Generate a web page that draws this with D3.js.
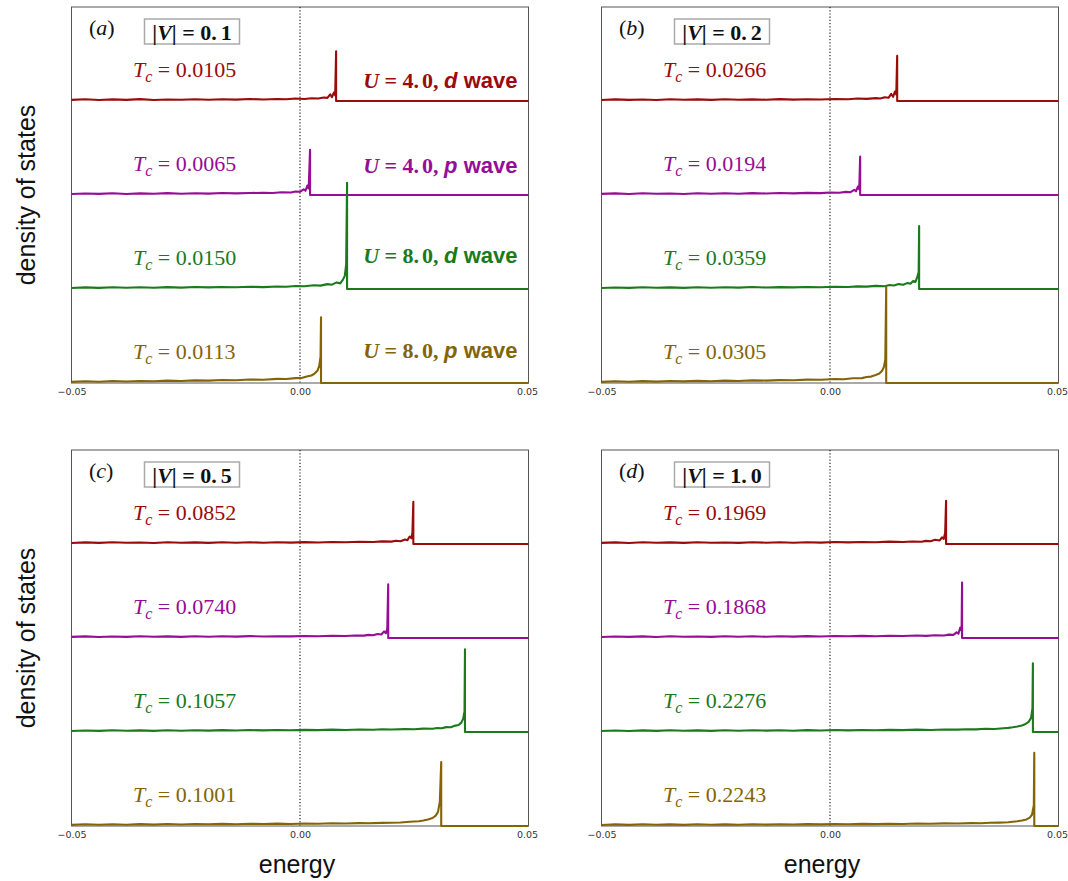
<!DOCTYPE html>
<html>
<head>
<meta charset="utf-8">
<script src="https://cdn.jsdelivr.net/npm/d3@7"></script>
<style>
  body { margin: 0; background: #fff; }
</style>
</head>
<body>
<div id="chart"></div>
<script>
// panel tags, |V| values, Tc values
const panelTags = ["a", "b", "c", "d"];
const vValues = ["0.1", "0.2", "0.5", "1.0"];
const tcValues = [
    ["0.0105", "0.0065", "0.0150", "0.0113"],
    ["0.0266", "0.0194", "0.0359", "0.0305"],
    ["0.0852", "0.0740", "0.1057", "0.1001"],
    ["0.1969", "0.1868", "0.2276", "0.2243"]
];
// U and pairing symmetry of each curve (red, magenta, green, olive)
const waveLabels = [["4.0", "d"], ["4.0", "p"], ["8.0", "d"], ["8.0", "p"]];
const curveColors = ["#9a0b0b", "#960d96", "#1b7a1b", "#836507"];
const curveOffsets = [3, 2, 1, 0];

// gap edge energy and coherence peak height
const edgeEnergy = [
    [0.0079, 0.0022, 0.0103, 0.0046],
    [0.0147, 0.0066, 0.0195, 0.0123],
    [0.0248, 0.0193, 0.0361, 0.0309],
    [0.0254, 0.0289, 0.0444, 0.0447]
];
const peakHeight = [
    [0.53, 0.48, 1.13, 0.70],
    [0.48, 0.41, 0.67, 1.02],
    [0.45, 0.57, 0.88, 0.68],
    [0.46, 0.59, 0.73, 0.78]
];

// density of states below the edge, [energy, dos]
const dosA = [
    [[-0.050,.012],[-0.047,.018],[-0.044,.010],[-0.041,.017],[-0.038,.012],[-0.035,.020],[-0.032,.011],[-0.029,.016],[-0.026,.013],[-0.023,.019],[-0.020,.014],[-0.017,.018],[-0.014,.015],[-0.011,.021],[-0.008,.016],[-0.005,.022],[-0.003,.019],[-0.001,.026],[0.001,.022],[0.0025,.030],[0.004,.027],[0.0052,.038],[0.006,.033],[0.0066,.07],[0.007,.04],[0.0074,.09],[0.0077,.06]],
    [[-0.050,.010],[-0.047,.016],[-0.044,.012],[-0.041,.018],[-0.038,.011],[-0.035,.017],[-0.032,.013],[-0.029,.020],[-0.026,.014],[-0.023,.018],[-0.020,.015],[-0.017,.022],[-0.014,.017],[-0.011,.021],[-0.008,.024],[-0.006,.022],[-0.004,.030],[-0.002,.027],[-0.001,.038],[0.000,.034],[0.0008,.06],[0.0012,.045],[0.0016,.10],[0.0019,.07]],
    [[-0.050,.011],[-0.047,.017],[-0.044,.012],[-0.041,.018],[-0.038,.013],[-0.035,.019],[-0.032,.014],[-0.029,.020],[-0.026,.015],[-0.023,.021],[-0.020,.017],[-0.017,.022],[-0.014,.018],[-0.011,.024],[-0.008,.020],[-0.005,.027],[-0.003,.024],[-0.001,.032],[0.001,.029],[0.003,.040],[0.0045,.036],[0.006,.052],[0.007,.046],[0.008,.07],[0.0088,.06],[0.0094,.10],[0.0098,.14],[0.0101,.26]],
    [[-0.050,.012],[-0.047,.019],[-0.044,.014],[-0.041,.021],[-0.038,.016],[-0.035,.022],[-0.032,.018],[-0.029,.025],[-0.026,.021],[-0.023,.028],[-0.020,.025],[-0.017,.032],[-0.014,.029],[-0.011,.037],[-0.008,.035],[-0.005,.044],[-0.003,.042],[-0.001,.052],[0.0005,.055],[0.0015,.068],[0.0025,.080],[0.0032,.10],[0.0038,.13],[0.0042,.18],[0.0045,.28]]
];
const dosB = [
    [[-0.050,.011],[-0.047,.017],[-0.044,.012],[-0.041,.016],[-0.038,.010],[-0.035,.018],[-0.032,.013],[-0.029,.017],[-0.026,.012],[-0.023,.019],[-0.020,.014],[-0.017,.017],[-0.014,.013],[-0.011,.020],[-0.008,.015],[-0.005,.019],[-0.002,.016],[0.001,.022],[0.004,.019],[0.006,.026],[0.008,.023],[0.010,.031],[0.011,.027],[0.012,.040],[0.0128,.034],[0.0134,.075],[0.0138,.045],[0.0142,.10],[0.0145,.07]],
    [[-0.050,.012],[-0.047,.017],[-0.044,.011],[-0.041,.018],[-0.038,.013],[-0.035,.016],[-0.032,.011],[-0.029,.019],[-0.026,.014],[-0.023,.018],[-0.020,.013],[-0.017,.020],[-0.014,.016],[-0.011,.021],[-0.008,.017],[-0.005,.023],[-0.002,.020],[0.000,.027],[0.002,.024],[0.0035,.033],[0.0045,.030],[0.0053,.055],[0.0057,.040],[0.0061,.09],[0.0064,.06]],
    [[-0.050,.010],[-0.047,.016],[-0.044,.012],[-0.041,.018],[-0.038,.013],[-0.035,.017],[-0.032,.012],[-0.029,.019],[-0.026,.014],[-0.023,.018],[-0.020,.015],[-0.017,.021],[-0.014,.016],[-0.011,.020],[-0.008,.017],[-0.005,.022],[-0.002,.019],[0.001,.024],[0.004,.021],[0.006,.028],[0.008,.025],[0.010,.033],[0.012,.030],[0.013,.042],[0.014,.037],[0.015,.052],[0.016,.046],[0.017,.065],[0.0176,.056],[0.0182,.085],[0.0187,.075],[0.0191,.13],[0.0194,.18]],
    [[-0.050,.012],[-0.047,.018],[-0.044,.013],[-0.041,.020],[-0.038,.015],[-0.035,.021],[-0.032,.017],[-0.029,.023],[-0.026,.019],[-0.023,.025],[-0.020,.022],[-0.017,.028],[-0.014,.025],[-0.011,.031],[-0.008,.029],[-0.005,.036],[-0.002,.034],[0.001,.042],[0.003,.040],[0.005,.050],[0.007,.052],[0.008,.064],[0.009,.068],[0.010,.085],[0.0108,.10],[0.0114,.13],[0.0118,.17],[0.0121,.25]]
];
const dosC = [
    [[-0.050,.011],[-0.047,.017],[-0.044,.012],[-0.041,.019],[-0.038,.013],[-0.035,.016],[-0.032,.011],[-0.029,.018],[-0.026,.013],[-0.023,.017],[-0.020,.012],[-0.017,.018],[-0.014,.014],[-0.011,.019],[-0.008,.013],[-0.005,.018],[-0.002,.015],[0.001,.020],[0.004,.016],[0.007,.021],[0.010,.018],[0.013,.024],[0.016,.021],[0.018,.028],[0.020,.025],[0.021,.034],[0.022,.030],[0.023,.048],[0.0235,.040],[0.024,.08],[0.0244,.06],[0.0246,.12]],
    [[-0.050,.012],[-0.047,.017],[-0.044,.011],[-0.041,.016],[-0.038,.012],[-0.035,.019],[-0.032,.013],[-0.029,.017],[-0.026,.012],[-0.023,.018],[-0.020,.014],[-0.017,.019],[-0.014,.015],[-0.011,.020],[-0.008,.016],[-0.005,.019],[-0.002,.017],[0.001,.022],[0.004,.019],[0.007,.024],[0.010,.022],[0.012,.027],[0.014,.025],[0.015,.033],[0.016,.029],[0.017,.042],[0.0178,.037],[0.0184,.07],[0.0188,.05],[0.0191,.10]],
    [[-0.050,.011],[-0.047,.016],[-0.044,.012],[-0.041,.018],[-0.038,.013],[-0.035,.017],[-0.032,.012],[-0.029,.018],[-0.026,.014],[-0.023,.019],[-0.020,.015],[-0.017,.020],[-0.014,.016],[-0.011,.021],[-0.008,.017],[-0.005,.022],[-0.002,.018],[0.001,.023],[0.004,.020],[0.007,.025],[0.010,.022],[0.013,.027],[0.016,.024],[0.018,.029],[0.020,.026],[0.023,.031],[0.025,.029],[0.027,.036],[0.029,.034],[0.030,.042],[0.031,.040],[0.032,.052],[0.033,.050],[0.034,.068],[0.0347,.075],[0.0353,.10],[0.0357,.14],[0.0360,.22]],
    [[-0.050,.012],[-0.047,.018],[-0.044,.013],[-0.041,.019],[-0.038,.014],[-0.035,.020],[-0.032,.015],[-0.029,.021],[-0.026,.016],[-0.023,.022],[-0.020,.018],[-0.017,.023],[-0.014,.019],[-0.011,.024],[-0.008,.021],[-0.005,.025],[-0.002,.022],[0.001,.027],[0.004,.024],[0.007,.029],[0.010,.027],[0.013,.031],[0.015,.029],[0.018,.033],[0.020,.034],[0.022,.038],[0.024,.045],[0.026,.050],[0.027,.058],[0.028,.070],[0.029,.085],[0.0297,.11],[0.0302,.15],[0.0306,.26]]
];
const dosD = [
    [[-0.050,.012],[-0.047,.017],[-0.044,.011],[-0.041,.018],[-0.038,.013],[-0.035,.017],[-0.032,.012],[-0.029,.018],[-0.026,.013],[-0.023,.016],[-0.020,.012],[-0.017,.019],[-0.014,.014],[-0.011,.018],[-0.008,.013],[-0.005,.019],[-0.002,.015],[0.001,.021],[0.004,.017],[0.007,.022],[0.010,.018],[0.013,.025],[0.016,.021],[0.018,.027],[0.020,.024],[0.021,.033],[0.022,.029],[0.023,.045],[0.024,.038],[0.0245,.07],[0.0249,.055],[0.0252,.12]],
    [[-0.050,.011],[-0.047,.016],[-0.044,.012],[-0.041,.017],[-0.038,.011],[-0.035,.018],[-0.032,.013],[-0.029,.016],[-0.026,.012],[-0.023,.019],[-0.020,.014],[-0.017,.018],[-0.014,.013],[-0.011,.019],[-0.008,.015],[-0.005,.020],[-0.002,.016],[0.001,.021],[0.004,.018],[0.007,.023],[0.010,.019],[0.013,.024],[0.016,.021],[0.019,.026],[0.021,.023],[0.023,.029],[0.025,.027],[0.026,.036],[0.027,.033],[0.0277,.06],[0.0281,.045],[0.0285,.11],[0.0288,.08]],
    [[-0.050,.010],[-0.047,.016],[-0.044,.011],[-0.041,.017],[-0.038,.012],[-0.035,.018],[-0.032,.013],[-0.029,.017],[-0.026,.012],[-0.023,.018],[-0.020,.014],[-0.017,.019],[-0.014,.015],[-0.011,.018],[-0.008,.014],[-0.005,.020],[-0.002,.016],[0.001,.021],[0.004,.017],[0.007,.022],[0.010,.019],[0.013,.023],[0.016,.020],[0.019,.025],[0.022,.022],[0.025,.027],[0.028,.025],[0.030,.030],[0.032,.028],[0.034,.034],[0.036,.032],[0.038,.040],[0.039,.044],[0.040,.050],[0.041,.058],[0.042,.070],[0.0428,.085],[0.0435,.11],[0.0440,.15],[0.0443,.25]],
    [[-0.050,.011],[-0.047,.017],[-0.044,.012],[-0.041,.018],[-0.038,.013],[-0.035,.017],[-0.032,.012],[-0.029,.018],[-0.026,.013],[-0.023,.017],[-0.020,.014],[-0.017,.019],[-0.014,.015],[-0.011,.019],[-0.008,.016],[-0.005,.020],[-0.002,.017],[0.001,.022],[0.004,.019],[0.007,.023],[0.010,.020],[0.013,.024],[0.016,.022],[0.019,.026],[0.022,.024],[0.025,.028],[0.028,.026],[0.031,.031],[0.033,.029],[0.035,.034],[0.037,.036],[0.039,.040],[0.040,.046],[0.041,.050],[0.042,.058],[0.043,.070],[0.0437,.090],[0.0442,.12],[0.0446,.22]]
];
const dosPanels = [dosA, dosB, dosC, dosD];

// layout
const panelW = 457, panelH = 376;
const panelOrigins = [[71.5, 7], [601.5, 7], [71.5, 450], [601.5, 450]];
const tcLift = 0.26;
const waveLabelY = [3.14, 2.23, 1.28, 0.27];

const serif = "'Liberation Serif', 'Times New Roman', serif";
const sans = "'Liberation Sans', Arial, sans-serif";

const svg = d3.select("#chart")
    .append("svg")
    .attr("width", 1068)
    .attr("height", 881);

const x = d3.scaleLinear().domain([-0.05, 0.05]).range([0, panelW]);
const y = d3.scaleLinear().domain([0, 4]).range([panelH, 0]);

const line = d3.line()
    .x(function(d) { return x(d[0]); })
    .y(function(d) { return y(d[1]); });

panelTags.forEach(function(tag, p) {
    const g = svg.append("g")
        .attr("transform", "translate(" + panelOrigins[p][0] + "," + panelOrigins[p][1] + ")");

    g.append("rect")
        .attr("width", panelW)
        .attr("height", panelH)
        .attr("fill", "none")
        .attr("stroke", "#555")
        .attr("stroke-width", 1);

    g.append("line")
        .attr("x1", x(0)).attr("x2", x(0))
        .attr("y1", 0).attr("y2", panelH)
        .attr("stroke", "#222")
        .attr("stroke-width", 1.2)
        .attr("stroke-dasharray", "1.2,2");

    dosPanels[p].forEach(function(pts, c) {
        const edge = edgeEnergy[p][c];
        const full = pts.concat([[edge, peakHeight[p][c]], [edge, 0], [0.05, 0]])
            .map(function(d) { return [d[0], d[1] + curveOffsets[c]]; });
        g.append("path")
            .attr("d", line(full))
            .attr("fill", "none")
            .attr("stroke", curveColors[c])
            .attr("stroke-width", 2.1)
            .attr("stroke-linejoin", "round");

        // Tc label
        const t = g.append("text")
            .attr("x", 61.5)
            .attr("y", y(curveOffsets[c] + tcLift))
            .attr("font-family", serif)
            .attr("font-size", 22)
            .attr("fill", curveColors[c]);
        t.append("tspan").attr("font-style", "italic").text("T");
        t.append("tspan").attr("font-style", "italic").attr("font-size", 16).attr("dy", 5).text("c");
        t.append("tspan").attr("dy", -5).text(" = " + tcValues[p][c]);

        if (p === 0) {
            const w = g.append("text")
                .attr("x", 446)
                .attr("y", y(waveLabelY[c]))
                .attr("text-anchor", "end")
                .attr("font-size", 22)
                .attr("font-weight", "bold")
                .attr("fill", curveColors[c]);
            const parts = waveLabels[c][0].split(".");
            w.append("tspan").attr("font-family", serif).attr("font-style", "italic").text("U");
            w.append("tspan").attr("font-family", serif).text(" = " + parts[0] + ".");
            w.append("tspan").attr("font-family", serif).attr("dx", 3).text(parts[1] + ", ");
            w.append("tspan").attr("font-family", sans).attr("font-style", "italic").text(waveLabels[c][1]);
            w.append("tspan").attr("font-family", sans).text(" wave");
        }
    });

    // panel tag
    const pt = g.append("text")
        .attr("x", 17.5)
        .attr("y", 28)
        .attr("font-family", serif)
        .attr("font-size", 22)
        .attr("fill", "#111");
    pt.append("tspan").text("(");
    pt.append("tspan").attr("font-style", "italic").text(tag);
    pt.append("tspan").text(")");

    // |V| box
    g.append("rect")
        .attr("x", 73)
        .attr("y", 12)
        .attr("width", 95)
        .attr("height", 25)
        .attr("fill", "#fff")
        .attr("stroke", "#aaa")
        .attr("stroke-width", 1.5);
    const vp = vValues[p].split(".");
    const vt = g.append("text")
        .attr("x", 120.5)
        .attr("y", 32.5)
        .attr("text-anchor", "middle")
        .attr("font-family", serif)
        .attr("font-size", 22)
        .attr("font-weight", "bold")
        .attr("fill", "#111");
    vt.append("tspan").text("|");
    vt.append("tspan").attr("font-style", "italic").text("V");
    vt.append("tspan").text("| = " + vp[0] + ".");
    vt.append("tspan").attr("dx", 4).text(vp[1]);

    const axis = g.append("g")
        .attr("transform", "translate(0," + panelH + ")")
        .call(d3.axisBottom(x)
            .tickValues([-0.05, 0, 0.05])
            .tickFormat(d3.format(".2f"))
            .tickSize(0)
            .tickPadding(5));
    axis.select(".domain").remove();
    axis.selectAll("text")
        .attr("font-family", "'DejaVu Sans', sans-serif")
        .attr("font-size", 9.5)
        .attr("fill", "#333")
        .attr("dx", function(d) { return d === 0.05 ? -1.5 : 0; });
});

// axis titles
[195, 638].forEach(function(cy) {
    svg.append("text")
        .attr("transform", "translate(35," + cy + ") rotate(-90)")
        .attr("text-anchor", "middle")
        .attr("font-family", sans)
        .attr("font-size", 25)
        .attr("fill", "#111")
        .text("density of states");
});
[297, 822].forEach(function(cx) {
    svg.append("text")
        .attr("x", cx)
        .attr("y", 873)
        .attr("text-anchor", "middle")
        .attr("font-family", sans)
        .attr("font-size", 25)
        .attr("fill", "#111")
        .text("energy");
});
</script>
</body>
</html>
